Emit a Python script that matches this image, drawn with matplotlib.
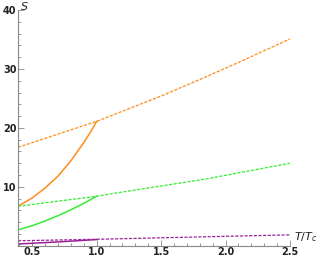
import numpy as np
import matplotlib
matplotlib.use('Agg')
import matplotlib.pyplot as plt
from matplotlib.ticker import MultipleLocator

# Dados
T_orange_solid = [0.39, 0.5, 0.6, 0.7, 0.8, 0.9, 0.95, 1.0]
S_orange_solid = [6.7, 8.1, 9.8, 11.8, 14.4, 17.5, 19.2, 21.1]
T_orange_dash = [0.39, 1.0, 1.5, 1.8, 2.1, 2.5]
S_orange_dash = [16.7, 21.1, 25.4, 28.2, 31.1, 35.1]

T_green_solid = [0.39, 0.5, 0.6, 0.7, 0.8, 0.9, 1.0]
S_green_solid = [2.7, 3.4, 4.2, 5.1, 6.1, 7.2, 8.4]
T_green_dash = [0.39, 1.0, 1.18, 1.84, 2.5]
S_green_dash = [6.7, 8.4, 9.05, 11.3, 14.0]

T_purple_solid = [0.39, 0.7, 1.0]
S_purple_solid = [0.3, 0.65, 1.05]
T_purple_dash = [0.39, 1.0, 2.5]
S_purple_dash = [0.85, 1.1, 1.85]

laranja = '#FF8C1A'
verde = '#33EE33'
roxo = '#992299'
tracejado = (0, (2.5, 1.2))

fig = plt.figure(figsize=(3.27, 2.56), dpi=100)
ax = fig.add_axes([0.055, 0.04, 0.832, 0.921])

ax.plot(T_orange_dash, S_orange_dash, color=laranja, lw=0.9, ls=tracejado)
ax.plot(T_orange_solid, S_orange_solid, color=laranja, lw=1.1)
ax.plot(T_green_dash, S_green_dash, color=verde, lw=0.9, ls=tracejado)
ax.plot(T_green_solid, S_green_solid, color=verde, lw=1.1)
ax.plot(T_purple_dash, S_purple_dash, color=roxo, lw=0.9, ls=tracejado)
ax.plot(T_purple_solid, S_purple_solid, color=roxo, lw=1.1)

ax.set_xlim(0.39, 2.5)
ax.set_ylim(0, 40)

for s in ['top', 'right']:
    ax.spines[s].set_visible(False)
for s in ['left', 'bottom']:
    ax.spines[s].set_color('#888888')
    ax.spines[s].set_linewidth(0.8)

ax.xaxis.set_major_locator(MultipleLocator(0.5))
ax.xaxis.set_minor_locator(MultipleLocator(0.1))
ax.yaxis.set_major_locator(MultipleLocator(10))
ax.yaxis.set_minor_locator(MultipleLocator(2))
ax.tick_params(which='both', direction='in', color='#888888', width=0.6)
ax.tick_params(which='major', length=4, labelsize=7, pad=1)
ax.tick_params(which='minor', length=2)
ax.set_yticks([10, 20, 30, 40])
for lbl in ax.get_xticklabels() + ax.get_yticklabels():
    lbl.set_fontweight('bold')
    lbl.set_color('#222222')

fig.text(0.9, 0.06, r'$T/T_c$', fontsize=8, color='#222222')
fig.text(0.062, 0.975, r'$S$', fontsize=8, color='#222222', va='center')

fig.savefig('out.png', dpi=100)
